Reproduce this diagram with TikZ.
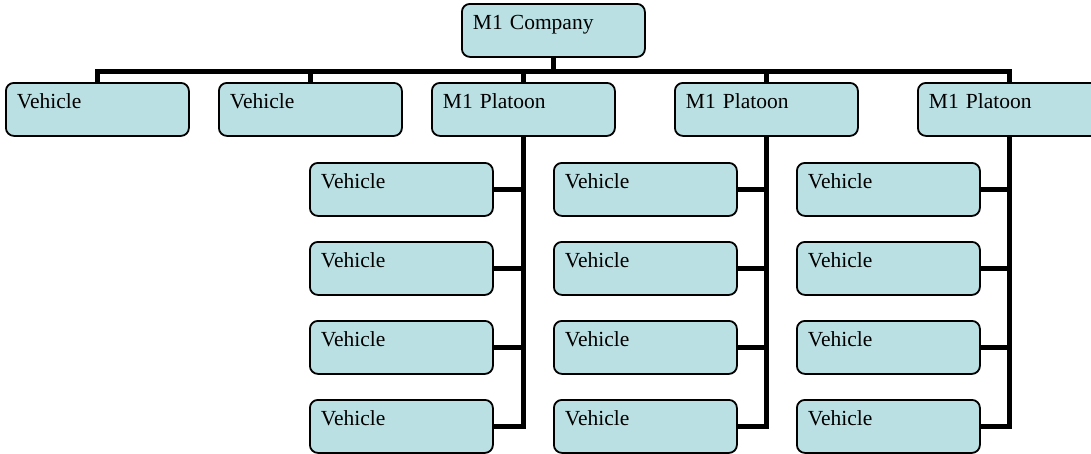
\documentclass[tikz,border=0pt]{standalone}
\usepackage{fontspec}
\setmainfont{Liberation Serif}
\usetikzlibrary{calc}

\definecolor{boxfill}{RGB}{186,224,227}
\tikzset{
  unitbox/.style={draw, line width=1.8pt, rounded corners=8pt, fill=boxfill,
    anchor=north west, align=left, text width=161pt, inner xsep=11pt,
    inner ysep=10pt, text height=16pt, text depth=17pt,
    font=\fontsize{21.5}{24}\selectfont},
  link/.style={line width=5pt, line join=miter}
}

\begin{document}
\begin{tikzpicture}[x=1pt, y=-1pt]
    \useasboundingbox (0,0) rectangle (1091,453);
    % company
    \node[unitbox] (co) at (461, 3) {M1 Company};
    % top row
    \node[unitbox] (v1) at (5, 82) {Vehicle};
    \node[unitbox] (v2) at (218, 82) {Vehicle};
    \node[unitbox] (p1) at (431, 82) {M1 Platoon};
    \node[unitbox] (p2) at (674, 82) {M1 Platoon};
    \node[unitbox] (p3) at (917, 82) {M1 Platoon};
    % vehicles of each platoon
    \foreach \p/\x in {1/309, 2/553, 3/796} {
        \foreach \k in {1,...,4} {
            \node[unitbox] (c\p\k) at (\x, {162 + 79*(\k-1)}) {Vehicle};
        }
    }
    % bar under the company
    \coordinate (bar) at ($(co.south) + (0, 14)$);
    \draw [link] (co.south) to (bar);
    \draw [link] (v1.north) |- (bar);
    \draw [link] (p3.north) |- (bar);
    \draw [link] (v2.north) to (v2.north |- bar);
    \draw [link] (p1.north) to (p1.north |- bar);
    \draw [link] (p2.north) to (p2.north |- bar);
    % platoon trunks
    \foreach \p in {1,2,3} {
        \draw [link] (p\p.south) |- (c\p4.east);
        \foreach \k in {1,2,3} {
            \draw [link] (c\p\k.east) to (p\p.south |- c\p\k.east);
        }
    }
\end{tikzpicture}
\end{document}
